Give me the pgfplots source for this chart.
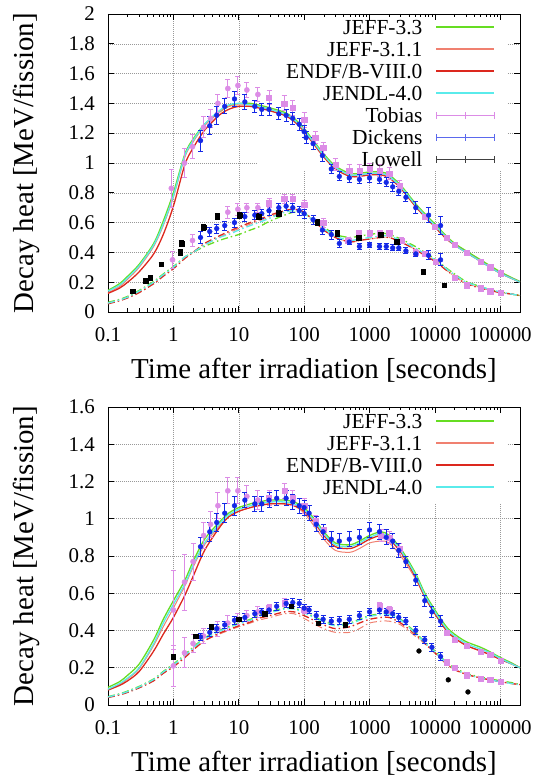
\documentclass[border=0pt]{standalone}
\usepackage{fontspec}
\setmainfont{Liberation Serif}
\usepackage{pgfplots}
\usepackage{pgfplotstable}
\pgfplotsset{compat=1.18}

\definecolor{cjeff33}{RGB}{102,221,34}
\definecolor{cjeff311}{RGB}{240,128,112}
\definecolor{cendf}{RGB}{220,40,30}
\definecolor{cjendl}{RGB}{90,235,235}
\definecolor{ctob}{RGB}{220,140,230}
\definecolor{cdick}{RGB}{20,40,230}
\definecolor{clow}{RGB}{0,0,0}

\pgfplotstableread{
t j33 j311 endf jendl
0.1 0.145 0.130 0.125 0.140
0.15 0.19 0.17 0.16 0.18
0.2 0.24 0.22 0.20 0.23
0.3 0.32 0.30 0.27 0.31
0.5 0.46 0.44 0.39 0.45
0.7 0.61 0.58 0.52 0.59
1 0.80 0.77 0.71 0.78
1.5 1.06 1.04 0.99 1.05
2 1.16 1.14 1.10 1.15
3 1.26 1.25 1.22 1.26
5 1.34 1.34 1.32 1.35
7 1.38 1.38 1.36 1.39
10 1.40 1.39 1.38 1.40
15 1.40 1.39 1.38 1.39
20 1.39 1.38 1.37 1.38
30 1.37 1.36 1.35 1.36
50 1.34 1.33 1.32 1.33
70 1.30 1.29 1.28 1.29
100 1.23 1.22 1.21 1.22
150 1.13 1.12 1.11 1.12
200 1.06 1.05 1.04 1.05
300 0.98 0.97 0.96 0.97
500 0.93 0.92 0.91 0.92
700 0.93 0.92 0.91 0.92
1000 0.94 0.93 0.92 0.93
1500 0.94 0.93 0.92 0.93
2000 0.92 0.91 0.90 0.91
3000 0.85 0.84 0.83 0.84
5000 0.73 0.72 0.71 0.72
7000 0.66 0.65 0.64 0.65
10000 0.59 0.58 0.57 0.58
15000 0.51 0.50 0.49 0.50
20000 0.46 0.45 0.45 0.45
30000 0.41 0.40 0.40 0.40
50000 0.35 0.34 0.34 0.34
70000 0.31 0.30 0.30 0.30
100000 0.27 0.26 0.26 0.26
150000 0.23 0.225 0.225 0.225
200000 0.205 0.20 0.20 0.20
}\topU

\pgfplotstableread{
t j33 j311 endf jendl
0.1 0.065 0.060 0.055 0.060
0.15 0.085 0.080 0.075 0.080
0.2 0.105 0.100 0.095 0.100
0.3 0.145 0.135 0.130 0.140
0.5 0.205 0.195 0.190 0.200
0.7 0.255 0.245 0.240 0.250
1 0.305 0.295 0.290 0.300
1.5 0.37 0.365 0.36 0.37
2 0.40 0.40 0.40 0.40
3 0.44 0.45 0.46 0.45
5 0.48 0.50 0.51 0.50
7 0.50 0.53 0.54 0.52
10 0.52 0.56 0.57 0.55
15 0.55 0.59 0.60 0.58
20 0.57 0.61 0.62 0.60
30 0.61 0.64 0.65 0.63
50 0.65 0.67 0.68 0.67
70 0.67 0.68 0.69 0.68
100 0.66 0.66 0.67 0.66
150 0.61 0.60 0.60 0.60
200 0.57 0.55 0.55 0.56
300 0.52 0.50 0.50 0.51
500 0.50 0.47 0.47 0.48
700 0.51 0.48 0.48 0.49
1000 0.52 0.49 0.49 0.50
1500 0.53 0.50 0.50 0.51
2000 0.52 0.50 0.50 0.51
3000 0.49 0.47 0.47 0.48
5000 0.44 0.42 0.42 0.43
7000 0.40 0.38 0.38 0.39
10000 0.355 0.34 0.34 0.35
15000 0.295 0.28 0.28 0.29
20000 0.255 0.24 0.24 0.25
30000 0.205 0.19 0.19 0.20
50000 0.17 0.165 0.16 0.17
70000 0.15 0.145 0.145 0.15
100000 0.135 0.13 0.13 0.135
150000 0.12 0.12 0.12 0.12
200000 0.11 0.11 0.11 0.11
}\topL

\pgfplotstableread{
t j33 j311 endf jendl
0.1 0.095 0.085 0.080 0.085
0.15 0.125 0.110 0.105 0.115
0.2 0.16 0.14 0.13 0.145
0.3 0.22 0.195 0.18 0.20
0.5 0.35 0.32 0.29 0.33
0.7 0.46 0.42 0.38 0.44
1 0.56 0.52 0.47 0.54
1.5 0.67 0.64 0.59 0.65
2 0.77 0.74 0.69 0.75
3 0.89 0.86 0.83 0.87
5 0.98 0.96 0.95 0.97
7 1.03 1.01 1.01 1.02
10 1.06 1.04 1.04 1.05
15 1.08 1.06 1.06 1.07
20 1.09 1.07 1.07 1.08
30 1.10 1.08 1.08 1.09
50 1.10 1.08 1.08 1.09
70 1.09 1.07 1.07 1.08
100 1.06 1.03 1.04 1.05
150 0.99 0.95 0.97 0.98
200 0.93 0.89 0.91 0.92
300 0.87 0.83 0.85 0.86
500 0.86 0.82 0.84 0.85
700 0.88 0.84 0.86 0.87
1000 0.91 0.87 0.89 0.90
1500 0.93 0.88 0.91 0.92
2000 0.91 0.87 0.89 0.90
3000 0.84 0.80 0.82 0.83
5000 0.71 0.68 0.69 0.70
7000 0.60 0.58 0.58 0.59
10000 0.51 0.49 0.49 0.50
15000 0.42 0.40 0.40 0.41
20000 0.38 0.36 0.36 0.37
30000 0.34 0.32 0.32 0.33
50000 0.31 0.29 0.29 0.30
70000 0.285 0.27 0.27 0.28
100000 0.255 0.245 0.245 0.25
150000 0.225 0.22 0.22 0.22
200000 0.20 0.20 0.20 0.20
}\botU

\pgfplotstableread{
t j33 j311 endf jendl
0.1 0.045 0.042 0.040 0.043
0.15 0.060 0.056 0.054 0.058
0.2 0.075 0.070 0.068 0.072
0.3 0.100 0.094 0.092 0.097
0.5 0.140 0.133 0.130 0.137
0.7 0.180 0.172 0.170 0.177
1 0.220 0.208 0.205 0.215
1.5 0.270 0.258 0.255 0.265
2 0.310 0.298 0.295 0.305
3 0.360 0.345 0.345 0.355
5 0.400 0.380 0.385 0.395
7 0.420 0.400 0.405 0.415
10 0.440 0.420 0.425 0.435
15 0.460 0.440 0.445 0.455
20 0.480 0.455 0.465 0.475
30 0.500 0.470 0.480 0.495
50 0.520 0.490 0.500 0.515
70 0.520 0.490 0.500 0.515
100 0.500 0.465 0.480 0.495
150 0.470 0.430 0.450 0.465
200 0.450 0.410 0.430 0.445
300 0.430 0.390 0.410 0.425
500 0.440 0.390 0.420 0.435
700 0.460 0.410 0.440 0.455
1000 0.480 0.440 0.460 0.475
1500 0.490 0.450 0.470 0.485
2000 0.490 0.450 0.470 0.485
3000 0.460 0.430 0.440 0.455
5000 0.390 0.370 0.380 0.385
7000 0.340 0.330 0.330 0.335
10000 0.290 0.280 0.280 0.285
15000 0.230 0.220 0.220 0.225
20000 0.200 0.190 0.190 0.195
30000 0.170 0.165 0.165 0.165
50000 0.150 0.145 0.145 0.145
70000 0.140 0.135 0.135 0.135
100000 0.130 0.125 0.125 0.125
150000 0.120 0.115 0.115 0.115
200000 0.110 0.110 0.110 0.108
}\botL

\pgfplotsset{
  cJA/.style={color=cjeff33, line width=1.3bp, smooth, forget plot},
  cJB/.style={color=cjeff311, line width=1.0bp, smooth, forget plot},
  cEN/.style={color=cendf, line width=1.3bp, smooth, forget plot},
  cJL/.style={color=cjendl, line width=1.3bp, smooth, forget plot},
  cDD/.style={dash pattern=on 7bp off 3bp on 1.5bp off 3bp},
  cEB/.style={error bars/y dir=both, error bars/y explicit,
    error bars/error bar style={line width=0.9bp, solid},
    error bars/error mark options={rotate=90, mark size=2.5bp, line width=0.9bp, solid}},
  cTOB/.style={only marks, color=ctob, mark=*, mark size=2.6bp, mark options={solid, fill=ctob}},
  cTOBSQ/.style={only marks, color=ctob, mark=square*, mark size=2.6bp, mark options={solid, fill=ctob}},
  cDICK/.style={only marks, color=cdick, mark=*, mark size=2.4bp, mark options={solid, fill=cdick}},
  cLOW/.style={only marks, color=clow, mark=square*, mark size=2.3bp, mark options={solid, fill=clow}},
  cTOBLEG/.style={legend image code/.code={\draw[ctob, line width=0.8bp] (0bp,2bp)--(58bp,2bp) (0bp,-1.5bp)--(0bp,5.5bp) (29bp,-1.5bp)--(29bp,5.5bp) (58bp,-1.5bp)--(58bp,5.5bp);}},
  cDICKLEG/.style={legend image code/.code={\draw[cdick!70, line width=0.8bp] (0bp,2bp)--(58bp,2bp) (0bp,-1.5bp)--(0bp,5.5bp) (29bp,-1.5bp)--(29bp,5.5bp) (58bp,-1.5bp)--(58bp,5.5bp);}},
  cLOWLEG/.style={legend image code/.code={\draw[black!75, line width=0.8bp] (0bp,2bp)--(58bp,2bp) (0bp,-1.5bp)--(0bp,5.5bp) (29bp,-1.5bp)--(29bp,5.5bp) (58bp,-1.5bp)--(58bp,5.5bp);}},
  cLA/.style={only marks, legend image code/.code={\draw[cjeff33, line width=1.4bp] (0bp,2bp)--(58bp,2bp);}},
  cLB/.style={only marks, legend image code/.code={\draw[cjeff311, line width=1.4bp] (0bp,2bp)--(58bp,2bp);}},
  cLE/.style={only marks, legend image code/.code={\draw[cendf, line width=1.4bp] (0bp,2bp)--(58bp,2bp);}},
  cLJ/.style={only marks, legend image code/.code={\draw[cjendl, line width=1.4bp] (0bp,2bp)--(58bp,2bp);}},
}

\begin{document}
\begin{tikzpicture}
\path[use as bounding box] (-108bp,-71bp) rectangle (431bp,705bp);

% ================= TOP PANEL =================
\begin{axis}[
    at={(0bp,393bp)}, anchor=south west,
    xmode=log, xmin=0.1, xmax=2e5, ymin=0, ymax=2,
    scale only axis, width=412bp, height=298bp,
    xtick={0.1,1,10,100,1000,10000,100000},
    xticklabels={0.1,1,10,100,1000,10000,100000},
    minor xtick={0.2,0.3,0.4,0.5,0.6,0.7,0.8,0.9,2,3,4,5,6,7,8,9,20,30,40,50,60,70,80,90,200,300,400,500,600,700,800,900,2000,3000,4000,5000,6000,7000,8000,9000,20000,30000,40000,50000,60000,70000,80000,90000},
    ytick={0,0.2,0.4,0.6,0.8,1,1.2,1.4,1.6,1.8,2},
    grid=major,
    major grid style={gray!80, dash pattern=on 1bp off 1bp, line width=0.5bp},
    axis line style={line width=0.9bp},
    tick style={black, line width=0.6bp},
    major tick length=6bp, minor tick length=3.5bp,
    tick label style={font=\fontsize{21}{24}\selectfont, inner sep=0pt},
    /pgf/number format/assume math mode=true,
    yticklabel style={xshift=-13bp},
    xticklabel style={yshift=-15bp},
    label style={font=\fontsize{29}{32}\selectfont},
    xlabel={Time after irradiation [seconds]},
    ylabel={Decay heat [MeV/fission]},
    xlabel style={at={(axis description cs:0.5,-0.2215)}, anchor=base},
    ylabel style={at={(axis description cs:-0.198,0.5)}, anchor=center},
    legend cell align=right,
    legend plot pos=right,
    legend style={draw=none, fill=none, inner sep=0pt, row sep=0pt, column sep=13bp,
      font=\fontsize{21.5}{22}\selectfont,
      nodes={inner sep=0pt, text height=16bp, text depth=6bp},
      at={(axis description cs:1,1)}, anchor=north east, xshift=-25bp, yshift=-4bp},
  ]
% opaque key box (hides the grid behind the key, as in the original)
\fill[white] (rel axis cs:0.362,0.475) rectangle (rel axis cs:0.968,0.976);
\addlegendimage{cLA} \addlegendentry{JEFF-3.3}
\addlegendimage{cLB} \addlegendentry{JEFF-3.1.1}
\addlegendimage{cLE} \addlegendentry{ENDF/B-VIII.0}
\addlegendimage{cLJ} \addlegendentry{JENDL-4.0}
\addplot[cJA] table[x=t,y=j33] {\topU};
\addplot[cJB] table[x=t,y=j311] {\topU};
\addplot[cEN] table[x=t,y=endf] {\topU};
\addplot[cJL] table[x=t,y=jendl] {\topU};
\addplot[cJA,cDD] table[x=t,y=j33] {\topL};
\addplot[cJB,cDD] table[x=t,y=j311] {\topL};
\addplot[cEN,cDD] table[x=t,y=endf] {\topL};
\addplot[cJL,cDD] table[x=t,y=jendl] {\topL};

% Tobias
\addplot[cTOB, cEB, cTOBLEG] table[x index=0,y index=1,y error index=2] {
0.93 0.83 0.13
1.48 1.00 0.10
1.96 1.11 0.08
2.9 1.24 0.07
3.7 1.30 0.06
4.8 1.40 0.06
6.8 1.50 0.06
9.7 1.52 0.06
13.3 1.49 0.05
19.6 1.46 0.05
}; \addlegendentry{Tobias}
\addplot[cTOBSQ, cEB, forget plot] table[x index=0,y index=1,y error index=2] {
29 1.44 0.05
49.5 1.40 0.05
67 1.37 0.05
100 1.29 0.05
147 1.17 0.04
195 1.10 0.04
300 0.99 0.04
490 0.95 0.04
700 0.95 0.04
1000 0.96 0.04
1420 0.95 0.04
2000 0.93 0.04
2900 0.85 0.03
};
\addplot[cTOBSQ, forget plot] table[x index=0,y index=1] {
7000 0.64
10000 0.57
15000 0.50
20000 0.45
31000 0.40
50000 0.34
70000 0.30
100000 0.26
};
\addplot[cTOB, cEB, forget plot] table[x index=0,y index=1,y error index=2] {
0.97 0.35 0.057
1.96 0.48 0.04
6.8 0.67 0.04
9.7 0.69 0.04
13.3 0.70 0.03
19.6 0.70 0.03
};
\addplot[cTOBSQ, cEB, forget plot] table[x index=0,y index=1,y error index=2] {
29 0.73 0.03
49.5 0.76 0.03
67 0.76 0.03
100 0.72 0.03
195 0.60 0.03
470 0.48 0.02
680 0.53 0.02
1000 0.53 0.02
1420 0.53 0.02
2000 0.53 0.02
3100 0.48 0.02
5100 0.40 0.02
};
\addplot[cTOBSQ, forget plot] table[x index=0,y index=1] {
7000 0.39
10400 0.34
20000 0.23
31000 0.18
50000 0.16
70000 0.14
100000 0.13
};

% Dickens
\addplot[cDICK, cEB, cDICKLEG] table[x index=0,y index=1,y error index=2] {
2.6 1.15 0.07
3.6 1.25 0.06
4.6 1.32 0.06
6.1 1.38 0.05
8.6 1.43 0.05
12.4 1.41 0.05
17.6 1.38 0.04
22.5 1.36 0.04
29 1.36 0.04
41 1.33 0.04
53 1.32 0.04
67 1.30 0.04
84 1.26 0.04
100 1.21 0.04
107 1.17 0.04
137 1.13 0.04
190 1.05 0.04
260 0.96 0.03
345 0.91 0.03
490 0.90 0.03
700 0.89 0.03
1000 0.90 0.03
1420 0.89 0.03
1800 0.87 0.03
2260 0.84 0.03
2800 0.81 0.03
3600 0.77 0.03
5100 0.70 0.04
8000 0.65 0.05
12200 0.58 0.06
}; \addlegendentry{Dickens}
\addplot[cDICK, cEB, forget plot] table[x index=0,y index=1,y error index=2] {
2.6 0.50 0.04
3.6 0.54 0.03
4.6 0.56 0.03
6.1 0.58 0.03
8.6 0.60 0.03
12.4 0.64 0.03
17.6 0.65 0.03
22.5 0.66 0.03
29 0.68 0.03
41 0.70 0.03
53 0.71 0.03
67 0.70 0.03
84 0.68 0.03
100 0.66 0.03
137 0.62 0.03
190 0.55 0.03
260 0.52 0.03
345 0.46 0.03
490 0.47 0.02
700 0.44 0.02
1000 0.45 0.02
1420 0.44 0.02
1800 0.44 0.02
2260 0.43 0.02
2800 0.43 0.02
3600 0.41 0.02
5100 0.39 0.02
8000 0.38 0.03
12200 0.35 0.04
};

% Lowell
\addplot[cLOW, cEB, cLOWLEG] table[x index=0,y index=1,y error index=2] {
0.24 0.14 0.01
0.38 0.21 0.01
0.44 0.23 0.01
0.65 0.32 0.01
1.28 0.40 0.02
1.33 0.46 0.02
2.9 0.57 0.02
4.7 0.64 0.02
10.3 0.65 0.02
20 0.64 0.02
41 0.66 0.02
158 0.60 0.02
320 0.53 0.02
680 0.50 0.02
1470 0.52 0.02
2600 0.47 0.02
6600 0.27 0.01
13800 0.18 0.01
}; \addlegendentry{Lowell}
\end{axis}

% ================= BOTTOM PANEL =================
\begin{axis}[
    at={(0bp,0bp)}, anchor=south west,
    xmode=log, xmin=0.1, xmax=2e5, ymin=0, ymax=1.6,
    scale only axis, width=412bp, height=298bp,
    xtick={0.1,1,10,100,1000,10000,100000},
    xticklabels={0.1,1,10,100,1000,10000,100000},
    minor xtick={0.2,0.3,0.4,0.5,0.6,0.7,0.8,0.9,2,3,4,5,6,7,8,9,20,30,40,50,60,70,80,90,200,300,400,500,600,700,800,900,2000,3000,4000,5000,6000,7000,8000,9000,20000,30000,40000,50000,60000,70000,80000,90000},
    ytick={0,0.2,0.4,0.6,0.8,1,1.2,1.4,1.6},
    grid=major,
    major grid style={gray!80, dash pattern=on 1bp off 1bp, line width=0.5bp},
    axis line style={line width=0.9bp},
    tick style={black, line width=0.6bp},
    major tick length=6bp, minor tick length=3.5bp,
    tick label style={font=\fontsize{21}{24}\selectfont, inner sep=0pt},
    /pgf/number format/assume math mode=true,
    yticklabel style={xshift=-13bp},
    xticklabel style={yshift=-15bp},
    label style={font=\fontsize{29}{32}\selectfont},
    xlabel={Time after irradiation [seconds]},
    ylabel={Decay heat [MeV/fission]},
    xlabel style={at={(axis description cs:0.5,-0.2215)}, anchor=base},
    ylabel style={at={(axis description cs:-0.198,0.5)}, anchor=center},
    legend cell align=right,
    legend plot pos=right,
    legend style={draw=none, fill=none, inner sep=0pt, row sep=0pt, column sep=13bp,
      font=\fontsize{21.5}{22}\selectfont,
      nodes={inner sep=0pt, text height=16bp, text depth=6bp},
      at={(axis description cs:1,1)}, anchor=north east, xshift=-25bp, yshift=-5bp},
  ]
\fill[white] (rel axis cs:0.362,0.678) rectangle (rel axis cs:0.968,0.976);
\addlegendimage{cLA} \addlegendentry{JEFF-3.3}
\addlegendimage{cLB} \addlegendentry{JEFF-3.1.1}
\addlegendimage{cLE} \addlegendentry{ENDF/B-VIII.0}
\addlegendimage{cLJ} \addlegendentry{JENDL-4.0}
\addplot[cJA] table[x=t,y=j33] {\botU};
\addplot[cJB] table[x=t,y=j311] {\botU};
\addplot[cEN] table[x=t,y=endf] {\botU};
\addplot[cJL] table[x=t,y=jendl] {\botU};
\addplot[cJA,cDD] table[x=t,y=j33] {\botL};
\addplot[cJB,cDD] table[x=t,y=j311] {\botL};
\addplot[cEN,cDD] table[x=t,y=endf] {\botL};
\addplot[cJL,cDD] table[x=t,y=jendl] {\botL};

% Tobias
\addplot[cTOB, cEB, forget plot] table[x index=0,y index=1,y error index=2] {
1.0 0.51 0.21
1.48 0.66 0.15
2.0 0.77 0.10
2.9 0.91 0.07
3.7 0.97 0.07
4.8 1.07 0.07
6.8 1.15 0.07
9.7 1.15 0.07
13.3 1.12 0.06
19.6 1.10 0.05
1.0 0.21 0.11
1.48 0.28 0.08
2.0 0.33 0.05
2.9 0.37 0.04
4.8 0.41 0.04
6.8 0.44 0.04
9.7 0.46 0.03
13.3 0.48 0.03
19.6 0.50 0.03
};
\addplot[cTOBSQ, cEB, forget plot] table[x index=0,y index=1,y error index=2] {
29 1.11 0.04
50 1.15 0.04
67 1.11 0.04
100 1.07 0.04
150 0.99 0.03
200 0.94 0.03
1500 0.91 0.03
2000 0.90 0.03
2900 0.84 0.03
29 0.52 0.02
50 0.55 0.02
100 0.51 0.02
1420 0.53 0.02
2000 0.51 0.02
};
\addplot[cTOBSQ, forget plot] table[x index=0,y index=1] {
15000 0.39
20000 0.35
31000 0.32
50000 0.285
70000 0.27
100000 0.24
15000 0.23
20000 0.20
31000 0.16
50000 0.14
70000 0.135
100000 0.125
};

% Dickens
\addplot[cDICK, cEB, forget plot] table[x index=0,y index=1,y error index=2] {
2.6 0.85 0.05
3.6 0.93 0.05
4.6 0.98 0.05
6.1 1.03 0.05
8.6 1.07 0.05
12.4 1.10 0.04
17.6 1.08 0.04
22.5 1.08 0.04
29 1.10 0.04
38 1.11 0.04
53 1.11 0.04
67 1.09 0.04
84 1.07 0.04
100 1.06 0.04
119 1.03 0.04
153 0.97 0.04
195 0.93 0.04
260 0.89 0.04
345 0.88 0.04
490 0.89 0.04
700 0.90 0.04
1000 0.94 0.04
1420 0.93 0.04
1800 0.90 0.04
2260 0.88 0.04
2800 0.83 0.04
3600 0.77 0.03
5100 0.67 0.03
7000 0.56 0.03
9000 0.50 0.03
12200 0.45 0.03
2.6 0.365 0.02
3.6 0.39 0.02
4.6 0.41 0.02
6.1 0.43 0.02
8.6 0.455 0.02
12.4 0.47 0.02
17.6 0.49 0.02
22.5 0.50 0.02
29 0.51 0.02
38 0.53 0.02
53 0.545 0.02
67 0.55 0.02
84 0.545 0.02
100 0.52 0.02
119 0.51 0.02
153 0.48 0.02
195 0.46 0.02
260 0.45 0.02
345 0.455 0.02
490 0.46 0.02
700 0.48 0.02
1000 0.50 0.02
1420 0.51 0.02
1800 0.50 0.02
2260 0.49 0.02
2800 0.47 0.02
3600 0.45 0.02
5100 0.40 0.02
7000 0.35 0.02
9000 0.31 0.02
12200 0.26 0.02
};

% Lowell
\addplot[cLOW, forget plot] table[x index=0,y index=1] {
1.0 0.26
2.2 0.37
3.8 0.42
10 0.46
25 0.49
63 0.53
164 0.44
425 0.43
};
\addplot[only marks, color=clow, mark=*, mark size=2.4bp, forget plot] table[x index=0,y index=1] {
5700 0.29
16000 0.135
32000 0.07
};
\end{axis}
\end{tikzpicture}
\end{document}
